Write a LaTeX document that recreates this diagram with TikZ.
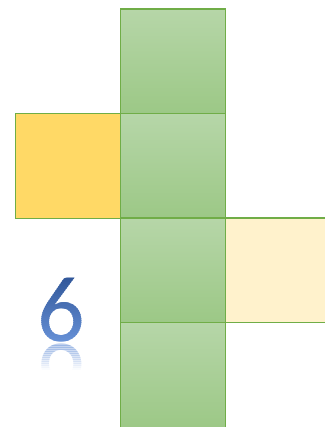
\documentclass[tikz,border=0pt]{standalone}
\usepackage{fontspec}
\setmainfont{Carlito}
\definecolor{gtop}{HTML}{B6D6A8}
\definecolor{gbot}{HTML}{9CC886}
\definecolor{gborder}{HTML}{70AD47}
\definecolor{yel}{HTML}{FFD966}
\definecolor{lyel}{HTML}{FFF2CC}
\definecolor{bdark}{HTML}{2F5597}
\definecolor{blight}{HTML}{6690D6}
\begin{document}
\begin{tikzpicture}[x=1pt,y=-1pt,
  sq/.style={draw=gborder, line width=1.5pt, minimum width=105pt, minimum height=104.5pt, inner sep=0pt, outer sep=0pt},
  greensq/.style={sq, top color=gtop, bottom color=gbot},
  digit/.style={font=\fontsize{94}{94}\selectfont, inner sep=0pt, anchor=base}]
\useasboundingbox (0,0) rectangle (324,427);
\node[greensq] (g1) at (172.8,61.5) {};
\node[greensq] (g2) at (172.8,166) {};
\node[greensq] (g3) at (172.8,270.4) {};
\node[greensq, minimum height=106pt] (g4) at (172.8,375.5) {};
\node[sq, fill=yel] (y1) at (67.8,166) {};
\node[sq, fill=lyel] (y2) at (277.8,270.4) {};
\draw[gborder, line width=1.5pt] (g1.north east) -- (g1.south east);
% digit with vertical gradient, drawn in bands
\foreach \i in {0,...,33}{
  \pgfmathsetmacro{\p}{int(\i*100/33)}
  \begin{scope}
    \clip (20,{274+\i*2}) rectangle (110,{276+\i*2+0.3});
    \node[digit, text=blight!\p!bdark] (six\i) at (61.5,341) {6};
  \end{scope}
}
% reflection
\foreach \i in {0,...,13}{
  \pgfmathsetmacro{\op}{0.42*(1-\i/13)}
  \begin{scope}
    \clip (20,{343+\i*2}) rectangle (110,{345+\i*2+0.3});
    \node[digit, text=blight, opacity=\op, yscale=-1] (sixr\i) at (61.5,344) {6};
  \end{scope}
}
\end{tikzpicture}
\end{document}
